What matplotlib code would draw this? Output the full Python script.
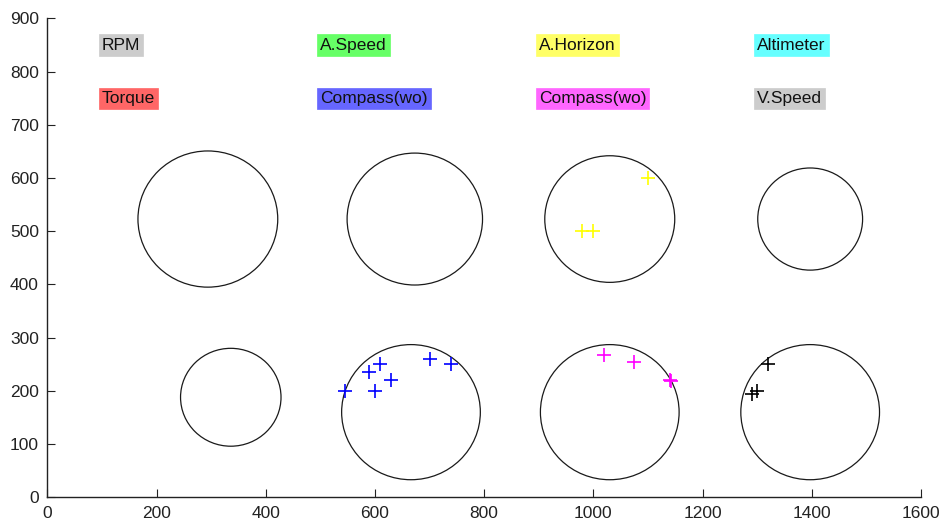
import matplotlib
matplotlib.use("Agg")
import matplotlib.pyplot as plt
from matplotlib.patches import Circle

plt.rcParams['font.family'] = ['Liberation Sans', 'DejaVu Sans']

# Gauge labels
label_names = ["RPM", "A.Speed", "A.Horizon", "Altimeter",
               "Torque", "Compass(wo)", "Compass(wo)", "V.Speed"]
label_x = [100, 500, 900, 1300, 100, 500, 900, 1300]
label_y = [850, 850, 850, 850, 750, 750, 750, 750]
label_colors = ["#cccccc", "#66ff66", "#ffff66", "#66ffff",
                "#ff6666", "#6666ff", "#ff66ff", "#cccccc"]

# Gauge circles (center x, center y, radius)
circle_cx = [294, 673, 1030, 1397, 336, 666, 1030, 1397]
circle_cy = [523, 523, 523, 523, 188, 160, 160, 160]
circle_r = [128, 124, 119, 96, 92, 127, 127, 127]

# Fixation points
blue_x = [545, 590, 610, 630, 600, 700, 740]
blue_y = [200, 235, 250, 220, 200, 260, 250]
yellow_x = [1100, 980, 1000]
yellow_y = [600, 500, 500]
magenta_x = [1020, 1075, 1140, 1142]
magenta_y = [268, 255, 220, 219]
black_x = [1320, 1300, 1290]
black_y = [250, 200, 195]

xticks = [0, 200, 400, 600, 800, 1000, 1200, 1400, 1600]
yticks = [0, 100, 200, 300, 400, 500, 600, 700, 800, 900]

fig = plt.figure(figsize=(9.46, 5.27), dpi=100)
ax = fig.add_axes([0.050, 0.0564, 0.9236, 0.9085])

for cx, cy, r in zip(circle_cx, circle_cy, circle_r):
    ax.add_patch(Circle((cx, cy), r, fill=False, edgecolor="#1a1a1a", linewidth=0.9))

ms = 10
mew = 1.2
ax.plot(blue_x, blue_y, '+', color='#0000ff', ms=ms, mew=mew, linestyle='none')
ax.plot(yellow_x, yellow_y, '+', color='#ffff00', ms=ms, mew=mew, linestyle='none')
ax.plot(magenta_x, magenta_y, '+', color='#ff00ff', ms=ms, mew=mew, linestyle='none')
ax.plot(black_x, black_y, '+', color='#000000', ms=ms, mew=mew, linestyle='none')

for name, x, y, c in zip(label_names, label_x, label_y, label_colors):
    ax.text(x, y, name, ha='left', va='center', fontsize=12.5, color='#111111',
            bbox=dict(boxstyle='square,pad=0.18', facecolor=c, edgecolor=c, linewidth=0.5))

ax.set_xlim(0, 1600)
ax.set_ylim(0, 900)
ax.set_xticks(xticks)
ax.set_yticks(yticks)
ax.set_xticklabels([str(v) for v in xticks])
ax.set_yticklabels([str(v) for v in yticks])
ax.spines['top'].set_visible(False)
ax.spines['right'].set_visible(False)
for s in ['left', 'bottom']:
    ax.spines[s].set_linewidth(1.0)
    ax.spines[s].set_color('#222222')
ax.tick_params(direction='in', length=5.5, width=0.8, labelsize=12.5, colors='#222222',
               top=False, right=False)
ax.tick_params(axis='y', pad=6)
ax.tick_params(axis='x', pad=6)

fig.savefig("out.png", dpi=100)
